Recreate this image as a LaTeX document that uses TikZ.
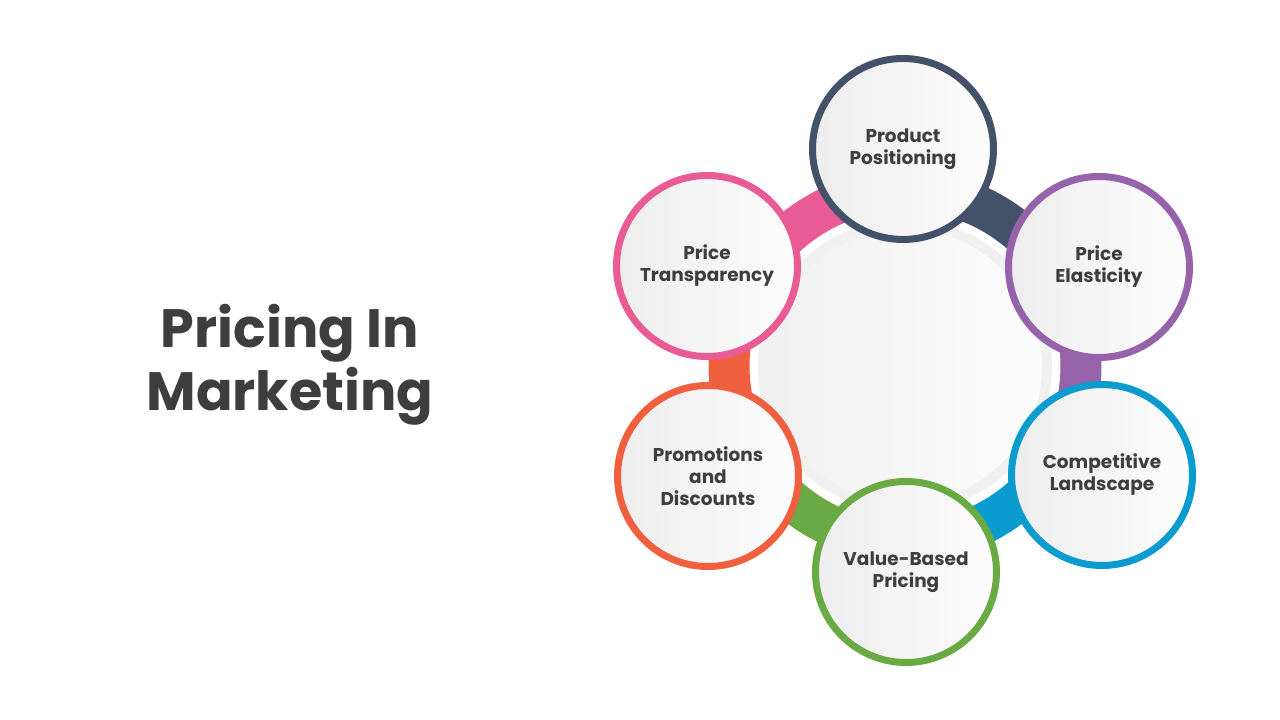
\documentclass[tikz,border=0pt]{standalone}
\usepackage{fontspec}
\setmainfont{Poppins}
\definecolor{txt}{HTML}{3E3E3E}
\definecolor{cdark}{HTML}{435269}
\definecolor{cpurple}{HTML}{9663AB}
\definecolor{cblue}{HTML}{0B9CCF}
\definecolor{cgreen}{HTML}{6AAA45}
\definecolor{corange}{HTML}{F05F3E}
\definecolor{cpink}{HTML}{E95B95}
\tikzset{
  topic/.style={circle, draw=#1, line width=7pt, minimum size=181pt, inner sep=0pt,
    left color=black!7, right color=black!1, align=center, text=txt,
    font=\fontsize{18.5}{22}\selectfont\bfseries},
  band/.style={draw=#1, line width=41pt},
}
\begin{document}
\begin{tikzpicture}[x=1pt,y=1pt]
\useasboundingbox (0,0) rectangle (1280,720);
\coordinate (C) at (905,354);
% colored band
\draw[band=cpink]   ([shift={(152.7:176)}]C) arc[start angle=152.7, end angle=90.5, radius=176];
\draw[band=cdark]   ([shift={(90.5:176)}]C) arc[start angle=90.5, end angle=27.5, radius=176];
\draw[band=cpurple] ([shift={(27.5:176)}]C) arc[start angle=27.5, end angle=-28.5, radius=176];
\draw[band=cblue]   ([shift={(-28.5:176)}]C) arc[start angle=-28.5, end angle=-90, radius=176];
\draw[band=cgreen]  ([shift={(-90:176)}]C) arc[start angle=-90, end angle=-151.3, radius=176];
\draw[band=corange] ([shift={(208.7:176)}]C) arc[start angle=208.7, end angle=152.7, radius=176];
% central disk
\fill[black!6] (C) circle[radius=147];
\shade[left color=black!6, right color=black!1] (C) circle[radius=137];
% topic circles
\node[topic=cdark]   (prod) at (903,571) {Product\\Positioning};
\node[topic=cpurple] (elas) at (1099,453) {Price\\Elasticity};
\node[topic=cblue]   (comp) at (1102,245) {Competitive\\Landscape};
\node[topic=cgreen]  (valu) at (906,148) {Value-Based\\Pricing};
\node[topic=corange] (prom) at (708,244) {Promotions\\and\\Discounts};
\node[topic=cpink]   (tran) at (707,454) {Price\\Transparency};
% title
\node[align=center, text=txt, font=\fontsize{54}{63}\selectfont\bfseries] (title) at (290,355) {Pricing In\\Marketing};
\end{tikzpicture}
\end{document}
